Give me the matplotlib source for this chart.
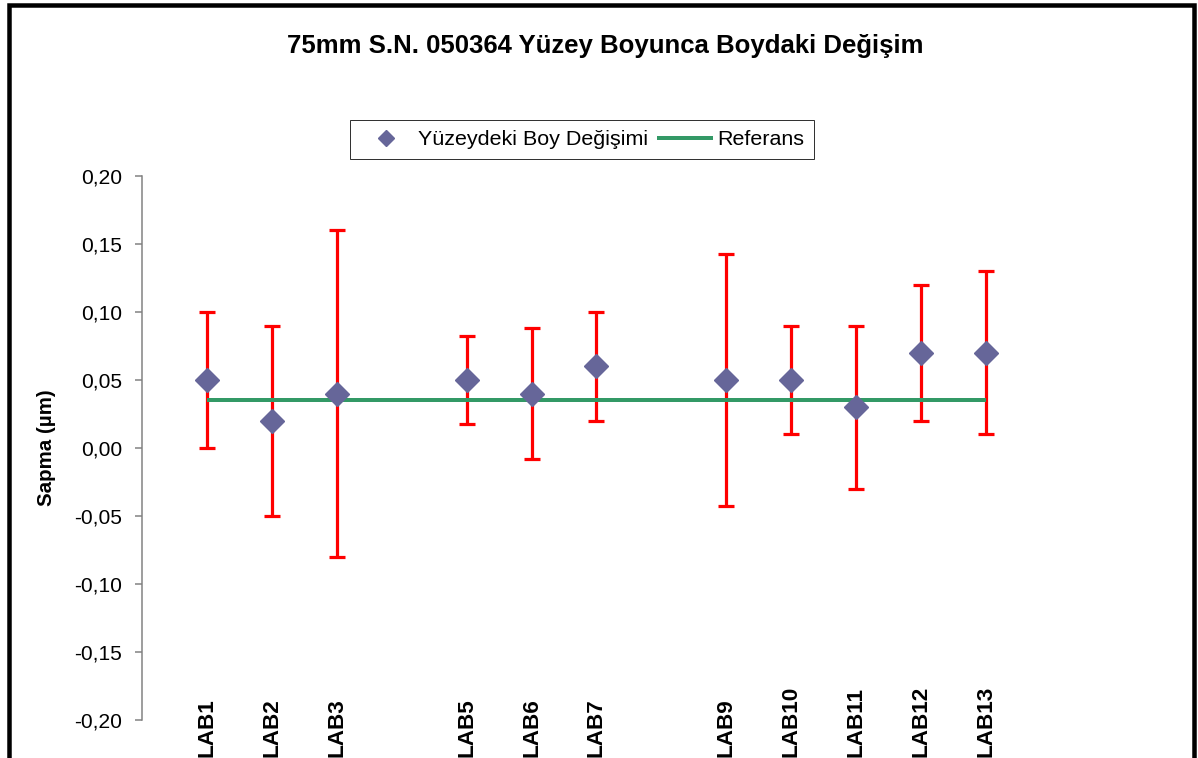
import matplotlib
matplotlib.use("Agg")
import matplotlib.pyplot as plt
from matplotlib.patches import Rectangle
from matplotlib.lines import Line2D
from matplotlib.transforms import blended_transform_factory

labels = ["LAB1", "LAB2", "LAB3", "LAB5", "LAB6", "LAB7",
          "LAB9", "LAB10", "LAB11", "LAB12", "LAB13"]
positions = [1, 2, 3, 5, 6, 7, 9, 10, 11, 12, 13]
values = [0.05, 0.02, 0.04, 0.05, 0.04, 0.06, 0.05, 0.05, 0.03, 0.07, 0.07]
uncert = [0.05, 0.07, 0.12, 0.032, 0.048, 0.04, 0.093, 0.04, 0.06, 0.05, 0.06]
ref_x = [1, 13]
ref_y = [0.035, 0.035]
yticks = [-0.20, -0.15, -0.10, -0.05, 0.00, 0.05, 0.10, 0.15, 0.20]

W, H = 1198, 758
dpi = 100
fig = plt.figure(figsize=(W / dpi, H / dpi), dpi=dpi)
plt.rcParams['font.family'] = ['Liberation Sans', 'DejaVu Sans']

def px(v):
    return v * 72.0 / dpi

ax_left, ax_right, ax_top, ax_bottom = 142, 142 + 16 * 64.92, 176, 720
ax = fig.add_axes([ax_left / W, 1 - ax_bottom / H, (ax_right - ax_left) / W, (ax_bottom - ax_top) / H])
ax.set_xlim(0, 16)
ax.set_ylim(-0.20, 0.20)

ax.errorbar(positions, values, yerr=uncert, fmt='none', ecolor='#FF0000',
            elinewidth=px(3.2), capsize=px(8), capthick=px(3.2), zorder=2)
ax.plot(ref_x, ref_y, color='#339966', lw=px(4), zorder=3, solid_capstyle='butt')
ax.plot(positions, values, linestyle='none', marker='D', markersize=px(16.5),
        color='#666699', markeredgecolor='#666699', zorder=4)

for s in ['top', 'right', 'bottom']:
    ax.spines[s].set_visible(False)
ax.spines['left'].set_color('#808080')
ax.spines['left'].set_linewidth(px(1.5))
ax.set_xticks([])
ax.set_yticks(yticks)
ax.set_yticklabels([f"{t:.2f}".replace('.', ',') for t in yticks])
ax.tick_params(axis='y', direction='out', length=px(7), width=px(1.5), color='#808080',
               labelsize=px(21), pad=px(13))

fig.text(47 / W, 1 - 448 / H, "Sapma (µm)", rotation=90, ha='center', va='center',
         fontsize=px(20.5), fontweight='bold')

fig.text(605 / W, 1 - 46 / H, "75mm S.N. 050364 Yüzey Boyunca Boydaki Değişim",
         ha='center', va='center', fontsize=px(25.8), fontweight='bold')

trans = blended_transform_factory(ax.transData, fig.transFigure)
for x, lab in zip(positions, labels):
    ax.text(x, 1 - 757 / H, lab, transform=trans, rotation=90, ha='center', va='bottom',
            fontsize=px(22.5), fontweight='bold', clip_on=False)

handles = [Line2D([], [], linestyle='none', marker='D', markersize=px(12), color='#666699'),
           Line2D([], [], color='#339966', lw=px(4))]
leg = fig.legend(handles, ["Yüzeydeki Boy Değişimi", "Referans"], loc='center',
                 bbox_to_anchor=(582 / W, 1 - 139.5 / H), ncol=2, frameon=True,
                 fancybox=False, edgecolor='#000000', fontsize=px(21.5),
                 handlelength=2.4, columnspacing=0.5, handletextpad=0.3,
                 borderpad=0.45)
leg.get_frame().set_linewidth(px(1))

fig.patches.append(Rectangle((9 / W, -0.05), (1194 - 9) / W, 1.05 - 5 / H,
                             transform=fig.transFigure, fill=False,
                             edgecolor='black', linewidth=px(4.5)))

fig.savefig("out.png", dpi=dpi)
